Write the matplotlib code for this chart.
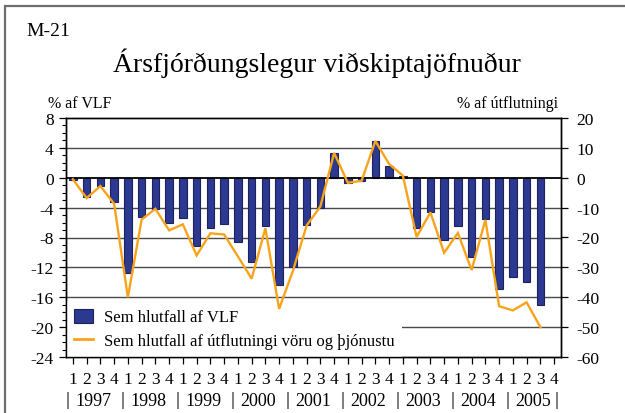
import matplotlib
matplotlib.use("Agg")
import matplotlib.pyplot as plt
from matplotlib.patches import Rectangle, Patch
from matplotlib.lines import Line2D
import numpy as np

plt.rcParams['font.family'] = ['Liberation Serif', 'DejaVu Serif']

years = ['1997', '1998', '1999', '2000', '2001', '2002', '2003', '2004', '2005']
quarter_labels = ['1', '2', '3', '4']

# % of GDP (left axis), quarterly 1997Q1 - 2005Q3
vlf = [-0.3, -2.6, -1.1, -3.2,
       -12.8, -5.3, -4.2, -6.0,
       -5.4, -9.1, -6.7, -6.2,
       -8.6, -11.3, -6.5, -14.3,
       -11.9, -6.3, -4.1, 3.3,
       -0.7, -0.45, 4.95, 1.55,
       0.2, -6.7, -4.65, -8.35,
       -6.5, -10.6, -5.5, -14.9,
       -13.35, -14.0, -17.1]

# % of exports of goods and services (right axis)
utfl = [-0.5, -6.8, -2.8, -8.7,
        -40.0, -14.0, -10.4, -17.6,
        -15.6, -26.0, -18.6, -19.0,
        -26.3, -33.8, -16.9, -43.9,
        -31.2, -16.0, -9.6, 8.3,
        -1.7, -1.0, 12.3, 4.6,
        0.7, -19.8, -11.6, -25.1,
        -18.5, -30.9, -14.1, -43.0,
        -44.4, -41.7, -50.0]

label_bar = 'Sem hlutfall af VLF'
label_line = 'Sem hlutfall af útflutningi vöru og þjónustu'

W, H = 625, 414
fig = plt.figure(figsize=(W / 100, H / 100), dpi=100)
fig.patch.set_facecolor('white')

# outer frame
fig.patches.append(Rectangle((4.5 / W, -0.1), 1.2, 1 - 7 / H + 0.1, transform=fig.transFigure,
                             fill=False, edgecolor='#6e6e6e', linewidth=1.6, figure=fig))

ax = fig.add_axes([66 / W, 1 - 358 / H, (561 - 66) / W, (358 - 119) / H])
n_slots = len(years) * 4
x = np.arange(len(vlf))

ax.set_xlim(-0.5, n_slots - 0.5)
ax.set_ylim(-24, 8)

for g in [4, -4, -8, -12, -16, -20]:
    ax.axhline(g, color='#4a4a4a', linewidth=1.0, zorder=0.5)

ax.bar(x, vlf, width=0.55, color='#2B3990', edgecolor='#1c2260', linewidth=0.8, zorder=2)
ax.axhline(0, color='black', linewidth=1.3, zorder=3)

ax.set_yticks(np.arange(-24, 9, 4))
ax.set_yticks(np.arange(-24, 9, 1), minor=True)
ax.set_yticklabels([str(v) for v in range(-24, 9, 4)], fontsize=12.5)
ax.tick_params(axis='y', which='major', direction='out', length=5, width=0.9, pad=4)
ax.tick_params(axis='y', which='minor', direction='out', length=3, width=0.8)

ax.set_xticks(np.arange(n_slots))
ax.set_xticklabels(quarter_labels * len(years), fontsize=12.5)
ax.tick_params(axis='x', direction='out', length=5, width=0.9, pad=5)

for s in ax.spines.values():
    s.set_linewidth(1.0)
    s.set_color('black')

ax2 = ax.twinx()
ax2.set_ylim(-60, 20)
ax2.set_yticks(np.arange(-60, 21, 10))
ax2.set_yticklabels([str(v) for v in range(-60, 21, 10)], fontsize=12.5)
ax2.tick_params(axis='y', direction='out', length=5, width=0.9, pad=6)
ax2.plot(x, utfl, color='#F8A41B', linewidth=1.7, zorder=4, solid_joinstyle='miter')
for s in ax2.spines.values():
    s.set_linewidth(1.0)

handles = [Patch(facecolor='#2B3990', edgecolor='#1c2260', linewidth=0.8),
           Line2D([], [], color='#F8A41B', linewidth=2.0)]
leg = ax.legend(handles, [label_bar, label_line], loc='lower left', bbox_to_anchor=(0, 0),
                borderaxespad=0, fontsize=12, frameon=True, fancybox=False,
                framealpha=1, facecolor='white', edgecolor='none',
                handlelength=1.15, handleheight=0.9, handletextpad=0.7,
                labelspacing=0.45, borderpad=0.45)
leg.set_zorder(3.5)

# year labels and separators
trans = ax.get_xaxis_transform()
for k, yr in enumerate(years):
    ax.text(4 * k + 1.5, -0.18, yr, transform=trans, ha='center', va='center', fontsize=13,
            clip_on=False)
sep_pos = [4 * k - 0.4 for k in range(len(years))] + [n_slots - 0.8]
for sx in sep_pos:
    ax.text(sx, -0.177, '|', transform=trans, ha='center', va='center', fontsize=14,
            clip_on=False)

fig.text(26 / W, 1 - 32 / H, 'M-21', ha='left', va='center', fontsize=14)
fig.text(317 / W, 1 - 63 / H, 'Ársfjórðungslegur viðskiptajöfnuður', ha='center', va='center',
         fontsize=20)
fig.text(48 / W, 1 - 104 / H, '% af VLF', ha='left', va='center', fontsize=11.5)
fig.text(558 / W, 1 - 104 / H, '% af útflutningi', ha='right', va='center', fontsize=11.5)

fig.savefig('out.png', dpi=100, facecolor='white')
